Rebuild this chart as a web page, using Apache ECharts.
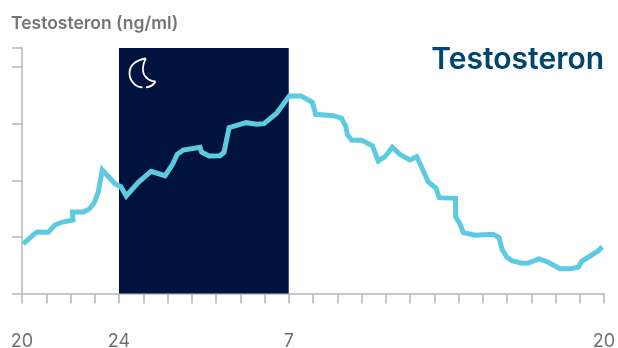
<!DOCTYPE html>
<html>
<head>
<meta charset="utf-8">
<style>html,body{margin:0;padding:0;background:#fff}#chart{width:618px;height:348px}</style>
<script src="https://cdn.jsdelivr.net/npm/echarts@6/dist/echarts.min.js"></script>
</head>
<body>
<div id="chart"></div>
<script>
// Hours elapsed since 20:00, with the testosterone level at each of them
const hours = [0.05,0.61,1.08,1.36,1.64,2.10,2.08,2.53,2.76,2.97,3.15,3.31,3.84,4.08,4.30,4.80,5.32,5.90,6.21,6.40,6.65,7.34,7.41,7.72,8.16,8.33,8.54,9.24,9.68,9.98,10.50,11.02,11.51,11.97,12.11,12.84,13.18,13.36,13.41,13.60,14.01,14.45,14.69,14.97,15.27,15.62,16.00,16.28,16.75,17.07,17.21,17.88,17.88,18.06,18.20,18.68,19.43,19.68,19.79,19.99,20.19,20.61,20.88,21.32,21.66,22.19,22.60,22.94,23.08,23.77,23.93];
const levels = [0.875,1.087,1.081,1.21,1.258,1.299,1.44,1.44,1.488,1.594,1.799,2.182,1.935,1.887,1.723,1.965,2.159,2.081,2.283,2.459,2.535,2.583,2.495,2.429,2.435,2.495,2.929,3.018,2.989,3.0,3.184,3.489,3.489,3.378,3.166,3.141,3.095,2.947,2.813,2.707,2.707,2.611,2.341,2.417,2.583,2.447,2.359,2.417,1.975,1.859,1.693,1.682,1.357,1.228,1.074,1.028,1.046,0.986,0.786,0.645,0.58,0.534,0.539,0.61,0.562,0.438,0.438,0.463,0.569,0.756,0.827];
// Clock labels shown under selected hours
const clockLabels = {0:'20',4:'24',11:'7',24:'20'};
// Night phase, in hours since 20:00
const night = [4, 11];
const yTop = 4.337;

const axisGrey = '#b7b7ba';
const textGrey = '#707072';
const font = 'Inter, "Open Sans", sans-serif';

// Crescent outline for the night band, one cubic segment per entry
const moonCurves = [
  {x1:146,y1:58.5,cpx1:135,cpy1:60,cpx2:129.5,cpy2:66,x2:129.5,y2:73},
  {x1:129.5,y1:73,cpx1:129.5,cpy1:81,cpx2:135.5,cpy2:87,x2:142.5,y2:87.3},
  {x1:146,y1:87.3,cpx1:150,cpy1:87,cpx2:153.5,cpy2:85,x2:155.5,y2:81.5},
  {x1:155.5,y1:81.5,cpx1:148,cpy1:81,cpx2:143,cpy2:76,x2:143,y2:69.5},
  {x1:143,y1:69.5,cpx1:143,cpy1:65.5,cpx2:144,cpy2:61.5,x2:146,y2:58.5}
];

const chart = echarts.init(document.getElementById('chart'), null, {renderer:'canvas'});
chart.setOption({
  animation:false,
  title:[
    {text:'Testosteron (ng/ml)',left:6,top:10,textStyle:{fontFamily:font,fontSize:17.5,fontWeight:600,color:'#747476'}},
    {text:'Testosteron',right:9,top:40,textStyle:{fontFamily:font,fontSize:30,fontWeight:600,color:'#004470'}}
  ],
  grid:{left:22,right:14,top:48,bottom:54.5,outerBoundsMode:'none'},
  xAxis:{
    type:'value',min:0,max:24,interval:1,
    axisLine:{show:true,lineStyle:{color:axisGrey,width:1.5}},
    axisTick:{show:true,length:10,lineStyle:{color:axisGrey,width:1.5}},
    splitLine:{show:false},
    axisLabel:{
      show:true,margin:39,hideOverlap:false,showMinLabel:true,showMaxLabel:true,
      fontFamily:font,fontSize:18,color:textGrey,
      formatter:v=>clockLabels[v]||''
    }
  },
  yAxis:{
    type:'value',min:0,max:yTop,interval:1,
    axisLine:{show:true,lineStyle:{color:axisGrey,width:1.5}},
    axisTick:{show:true,length:10,lineStyle:{color:axisGrey,width:1.5}},
    splitLine:{show:false},
    axisLabel:{show:false}
  },
  series:[{
    type:'line',
    data:hours.map((h,i)=>[h,levels[i]]),
    showSymbol:false,smooth:false,
    lineStyle:{color:'#5ccbe2',width:5,cap:'butt',join:'miter',miterLimit:6},
    markArea:{
      silent:true,
      itemStyle:{color:'#00133f'},
      data:[[{xAxis:night[0],yAxis:0},{xAxis:night[1],yAxis:yTop}]]
    }
  }],
  graphic:moonCurves.map(shape=>({
    type:'bezierCurve',z:10,silent:true,shape,
    style:{fill:'none',stroke:'#ffffff',lineWidth:1.8}
  }))
});
</script>
</body>
</html>
